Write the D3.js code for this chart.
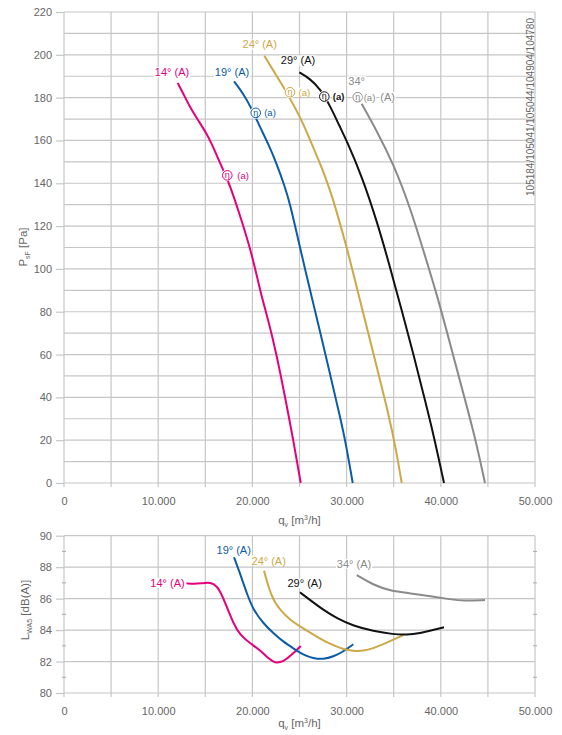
<!DOCTYPE html>
<html><head><meta charset="utf-8">
<script src="https://cdn.jsdelivr.net/npm/d3@7"></script>
<style>body{margin:0;background:#fff;} text{font-family:"Liberation Sans",Arial,sans-serif;}</style>
</head><body><svg id="c" width="562" height="735"></svg>
<script>
// ---------- data ----------
const angles = ["14°","19°","24°","29°","34°"];
const colors = ["#e4007c","#0b5ca6","#cda847","#111111","#8a8a8a"];

// pressure curves: [q m³/h, Psf Pa]
const pres14 = [[12070,186.9],[12670,181.8],[13380,175.5],[14260,169.3],[15150,163.1],[15680,158.4],[16380,151.4],[16910,146],[17550,140],[18860,122.7],[20030,105.6],[20800,90],[21690,76],[22580,59.7],[23460,40.3],[24280,21.6],[25130,0]];
const pres19 = [[18050,187.6],[19040,181.8],[19850,175.5],[20810,166.2],[21690,158.4],[22580,149.1],[23460,138.2],[23990,130.5],[24800,114.9],[25620,99.3],[26460,83.8],[27320,68.2],[28150,52.7],[28960,37.2],[29800,21.6],[30650,0]];
const pres24 = [[21270,199.6],[22220,192.6],[23110,186.4],[24520,175.5],[25400,167.8],[26300,158.4],[27360,147.5],[28240,136.7],[28700,130.5],[30010,110.2],[30890,94.7],[31770,79.2],[32670,63.6],[33550,48],[34430,32.5],[35260,15.4],[35850,0]];
const pres29 = [[24980,191.8],[26120,188.8],[27180,184.1],[28240,176.3],[29300,166.2],[30000,160],[31600,143.5],[33190,122.7],[34610,100.9],[35850,80.7],[37080,60.5],[38140,41.8],[39200,23.2],[40340,0]];
const pres34 = [[31600,177.1],[33190,164.6],[34960,149.1],[36730,128.9],[38140,108.7],[39560,88.5],[40980,65.2],[42390,41.8],[43630,21.6],[44690,0]];

// sound power curves: [q m³/h, LWA5 dB(A)]
const sound14 = [[13000,86.97],[13800,86.93],[14600,86.97],[15300,87.02],[15900,86.96],[16560,86.55],[17270,85.49],[17980,84.43],[18680,83.69],[19750,83.16],[20810,82.73],[21690,82.2],[22400,81.89],[23290,81.99],[24170,82.42],[25130,82.99]];
const sound19 = [[18050,88.63],[18680,87.61],[19400,86.34],[20100,85.28],[21160,84.43],[22220,83.8],[23280,83.26],[24340,82.84],[25400,82.42],[26460,82.2],[27530,82.14],[28590,82.31],[29650,82.63],[30710,83.1]];
const sound24 = [[21230,87.78],[21690,86.76],[22220,85.91],[22930,85.28],[23990,84.64],[25400,84.11],[26830,83.58],[28240,83.11],[29650,82.78],[30710,82.67],[31770,82.67],[32830,82.84],[34260,83.2],[35670,83.58],[36020,83.69]];
const sound29 = [[25050,86.4],[26120,85.91],[27530,85.28],[28950,84.75],[30710,84.26],[32830,83.94],[34960,83.73],[36380,83.69],[37790,83.8],[39200,84.01],[40340,84.18]];
const sound34 = [[31070,87.5],[32830,86.87],[34610,86.5],[36730,86.34],[39200,86.12],[40980,85.96],[42390,85.85],[44690,85.91]];

const xTicks = [0,10000,20000,30000,40000,50000];
const pTicks = [0,20,40,60,80,100,120,140,160,180,200,220];
const lTicks = [80,82,84,86,88,90];

// label anchors in data units
const presLabels = [[11465,191.7],[17835,191.8],[20775,204.8],[24840,197.3],[31070,187.6]];
const etaLabels = [[17336,143.7],[20351,172.9],[23992,182.5],[27634,180.5],[31180,180.2]];
const soundLabels = [[10990,86.99],[18015,89.09],[21730,88.41],[25550,86.97],[30790,88.2]];
const codeText = "105184/105041/105044/104904/104780";

const presSeries = [pres14,pres19,pres24,pres29,pres34];
const soundSeries = [sound14,sound19,sound24,sound29,sound34];

// ---------- drawing ----------
const svg = d3.select("#c");
const x = d3.scaleLinear().domain([0,50000]).range([64,535]);
const yP = d3.scaleLinear().domain([0,220]).range([483,12]);
const yL = d3.scaleLinear().domain([80,90]).range([693,535.7]);
const loc = d3.formatLocale({decimal:",",thousands:".",grouping:[3],currency:["",""]});
const fmt = loc.format(",");
const gridC = "#c6c6c6", textC = "#666";

function grid(yScale, yVals){
  const g = svg.append("g").attr("stroke",gridC).attr("stroke-width",1.2);
  g.selectAll(".h").data(yVals).join("line")
    .attr("x1",x(0)).attr("x2",x(50000))
    .attr("y1",d=>yScale(d)).attr("y2",d=>yScale(d));
  g.selectAll(".v").data(d3.range(0,50001,5000)).join("line")
    .attr("x1",d=>x(d)).attr("x2",d=>x(d))
    .attr("y1",yScale(yScale.domain()[1])).attr("y2",yScale(yScale.domain()[0])+4);
}
grid(yP, d3.range(0,221,10));
grid(yL, d3.range(80,91,2));

function styleAxis(g){
  g.select(".domain").remove();
  g.selectAll(".tick line").attr("stroke",gridC).attr("stroke-width",1.2);
  g.selectAll(".tick text").attr("fill",textC).attr("font-size",11).attr("font-family","Liberation Sans, Arial, sans-serif");
}
svg.append("g").attr("transform","translate(64,0)")
  .call(d3.axisLeft(yP).tickValues(pTicks).tickSize(8).tickPadding(4)).call(styleAxis);
svg.append("g").attr("transform","translate(64,0)")
  .call(d3.axisLeft(yL).tickValues(lTicks).tickSize(8).tickPadding(4)).call(styleAxis);
svg.append("g").selectAll("line").data([81,83,85,87,89]).join("line")
  .attr("x1",62).attr("x2",66).attr("y1",d=>yL(d)).attr("y2",d=>yL(d)).attr("stroke","#aaa");
svg.append("g").selectAll("line").data([81,83,85,87,89]).join("line")
  .attr("x1",533).attr("x2",537).attr("y1",d=>yL(d)).attr("y2",d=>yL(d)).attr("stroke","#aaa");
svg.append("g").attr("transform","translate(0,483)")
  .call(d3.axisBottom(x).tickValues(xTicks).tickFormat(fmt).tickSize(0).tickPadding(14)).call(styleAxis);
svg.append("g").attr("transform","translate(0,693)")
  .call(d3.axisBottom(x).tickValues(xTicks).tickFormat(fmt).tickSize(0).tickPadding(14)).call(styleAxis);

function xTitle(y){
  const t = svg.append("text").attr("x",x(25000)).attr("y",y).attr("text-anchor","middle")
    .attr("fill",textC).attr("font-size",11.5);
  t.append("tspan").text("q");
  t.append("tspan").attr("font-size",7).attr("dy",3).text("v");
  t.append("tspan").attr("dy",-3).text(" [m");
  t.append("tspan").attr("font-size",7).attr("dy",-4).text("3");
  t.append("tspan").attr("dy",4).text("/h]");
}
xTitle(524); xTitle(727);
function yTitle(cx, cy, main, sub, rest){
  const t = svg.append("text").attr("transform",`translate(${cx},${cy}) rotate(-90)`)
    .attr("text-anchor","middle").attr("fill",textC).attr("font-size",11.5);
  t.append("tspan").text(main);
  t.append("tspan").attr("font-size",7).attr("dy",3).text(sub);
  t.append("tspan").attr("dy",-3).text(rest);
}
yTitle(27, 247, "P", "sF", " [Pa]");
yTitle(29, 610, "L", "WA5", " [dB(A)]");

svg.append("text").attr("transform","translate(533.5,107) rotate(-90)")
  .attr("text-anchor","middle").attr("fill",textC).attr("font-size",10).text(codeText);

// curves (smoothed)
const lineP = d3.line().x(d=>x(d[0])).y(d=>yP(d[1])).curve(d3.curveBasis);
const lineL = d3.line().x(d=>x(d[0])).y(d=>yL(d[1])).curve(d3.curveBasis);
svg.append("g").selectAll("path").data(presSeries).join("path")
  .attr("d",lineP).attr("fill","none").attr("stroke",(d,i)=>colors[i]).attr("stroke-width",2);
svg.append("g").selectAll("path").data(soundSeries).join("path")
  .attr("d",lineL).attr("fill","none").attr("stroke",(d,i)=>colors[i]).attr("stroke-width",2);

function bgText(g, px, py, str, color, size, anchor, weight){
  const t = g.append("text").attr("x",px).attr("y",py).attr("dy","0.35em")
    .attr("text-anchor",anchor||"middle").attr("fill",color).attr("font-size",size)
    .attr("font-weight",weight||"normal").text(str);
  const b = t.node().getBBox();
  g.insert("rect",()=>t.node()).attr("x",b.x-1).attr("y",b.y+1).attr("width",b.width+2).attr("height",b.height-2).attr("fill","#fff");
  return b;
}
const lab = svg.append("g");
presLabels.forEach((p,i)=>{
  const str = i===4 ? angles[i] : angles[i]+" (A)";
  bgText(lab, x(p[0]), yP(p[1]), str, colors[i], 11);
});
etaLabels.forEach((p,i)=>{
  const cx = x(p[0]), cy = yP(p[1]), col = colors[i];
  lab.append("circle").attr("cx",cx).attr("cy",cy).attr("r",6).attr("fill","#fff");
  lab.append("circle").attr("cx",cx).attr("cy",cy).attr("r",4.8).attr("fill","#fff").attr("stroke",col).attr("stroke-width",1);
  lab.append("text").attr("x",cx).attr("y",cy).attr("dy","0.3em").attr("text-anchor","middle")
    .attr("fill",col).attr("font-size",9).text("η");
  const gap = i===4 ? 6 : (i===0 ? 10 : 8.5);
  const b = bgText(lab, cx+gap, cy, "(a)", col, 9.5, "start", i===3 ? "bold" : "normal");
  if(i===4) bgText(lab, b.x+b.width+5, cy, "(A)", col, 11, "start");
});
soundLabels.forEach((p,i)=>{
  bgText(lab, x(p[0]), yL(p[1]), angles[i]+" (A)", colors[i], 11);
});
</script></body></html>
